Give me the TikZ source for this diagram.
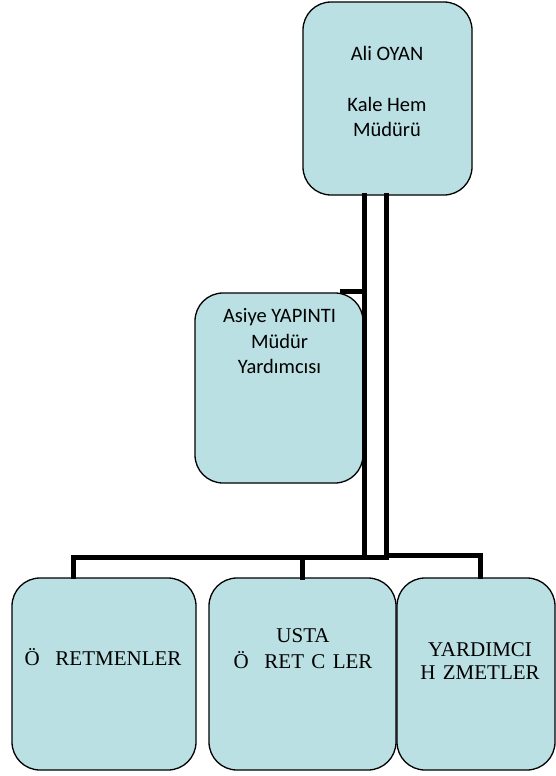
\documentclass[tikz,border=0pt]{standalone}
\usepackage{fontspec}
\setmainfont{Liberation Serif}
\newfontfamily\calib{Carlito}
\usepackage{tikz}
\definecolor{boxblue}{RGB}{186,224,227}
\tikzset{
    unit/.style={draw, line width=1.3pt, rectangle, rounded corners=28pt, fill=boxblue, inner sep=0pt},
    nameText/.style={font=\calib\fontsize{20.5}{25.5}\selectfont, align=center, inner sep=0pt},
    staffText/.style={font=\fontsize{21}{26}\selectfont, align=center, inner sep=0pt},
    link/.style={line width=5pt, line cap=rect},
}
\usetikzlibrary{positioning,calc}

\begin{document}
\begin{tikzpicture}[x=1pt, y=-1pt]
\useasboundingbox (0, 0) rectangle (556, 776);

\node[unit, minimum width=169pt, minimum height=193pt] (mudur) at (387.5, 98.5) {};
\node[nameText] (mudurText) at (387, 91.5) {Ali OYAN\\ \\Kale Hem\\Müdürü};

\node[unit, minimum width=168pt, minimum height=190pt] (yardimci) at (279, 388) {};
\node[nameText] (yardimciText) at (279.5, 341.5) {Asiye YAPINTI\\Müdür\\Yardımcısı};

\node[unit, minimum width=184pt, minimum height=192pt] (ogretmen) at (104, 674) {};
\node[staffText] (ogretmenText) at (103, 657) {Ö\hspace{0.75em}RETMENLER};

\node[unit, minimum width=187pt, minimum height=192pt] (usta) at (302.5, 674) {};
\node[staffText] (ustaText) at (303, 648.5) {USTA\\Ö\hspace{0.75em}RET\hspace{0.35em}C\hspace{0.35em}LER};

\node[unit, minimum width=158pt, minimum height=192pt] (hizmet) at (476, 674) {};
\node[staffText, font=\fontsize{21}{23}\selectfont] (hizmetText) at (480, 661.5) {YARDIMCI\\H\hspace{0.35em}ZMETLER};

\coordinate (legL) at (364.5, 557.5);
\coordinate (legR) at (386, 555.5);
\coordinate (busEnd) at (386, 557.5);
\coordinate (dropA) at (73.5, 576);
\coordinate (dropC) at (480.5, 576);
\coordinate (tapY) at (342, 291);

\draw[link] (mudur.south -| legL) -- (legL);
\draw[link] (mudur.south -| legR) -- (legR) -| (dropC);
\draw[link] (dropA) |- (busEnd);
\draw[link] (usta.north) -- (usta.north |- busEnd);
\draw[link] (tapY) -- (tapY -| legL);

\end{tikzpicture}
\end{document}
